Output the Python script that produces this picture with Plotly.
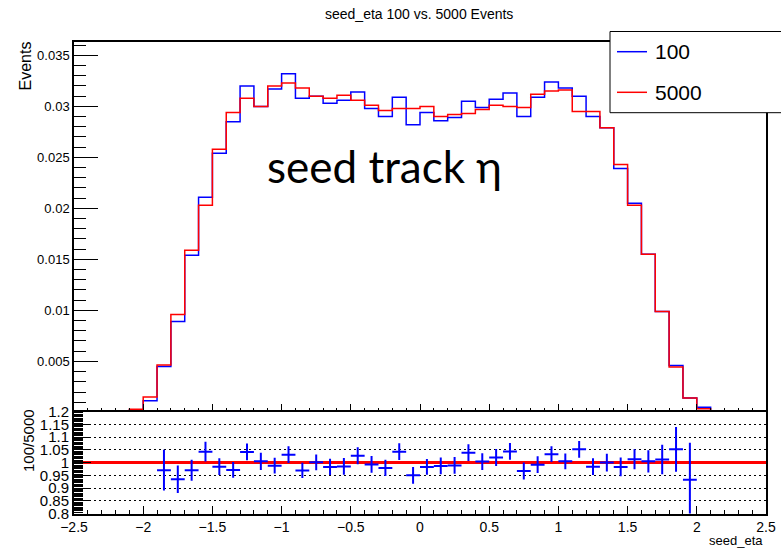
import numpy as np
import plotly.graph_objects as go

# bin edges: 50 bins of 0.1 from -2.5 to 2.5, only -2.1..2.1 are filled
edges = np.round(np.arange(-2.5, 2.5001, 0.1), 2)

# normalised counts per bin, -2.1 .. 2.1 (42 bins)
n100 = [0.0002, 0.00115, 0.0045, 0.0089, 0.0154, 0.0211, 0.0254, 0.0285, 0.0320, 0.0300,
        0.0317, 0.0332, 0.0308, 0.0310, 0.0303, 0.0306, 0.0314, 0.0298, 0.0290, 0.0309,
        0.0282, 0.0294, 0.0286, 0.0289, 0.0305, 0.0299, 0.0307, 0.0313, 0.0290, 0.0309,
        0.0324, 0.0318, 0.0310, 0.0290, 0.0279, 0.0239, 0.0205, 0.0155, 0.0099, 0.0046,
        0.0014, 0.0005]
n5000 = [0.0003, 0.0015, 0.00464, 0.0096, 0.0159, 0.0203, 0.0258, 0.0294, 0.0308, 0.0300,
         0.0320, 0.0323, 0.0318, 0.0310, 0.0308, 0.0311, 0.0306, 0.0301, 0.0296, 0.0298,
         0.0298, 0.0300, 0.0290, 0.0292, 0.0293, 0.0297, 0.0301, 0.0300, 0.0299, 0.0312,
         0.0315, 0.0316, 0.0295, 0.0295, 0.0279, 0.0243, 0.0203, 0.0155, 0.0099, 0.00445,
         0.0014, 0.00036]

# ratio 100/5000 at bin centres -1.85 .. 1.95
ratio = [0.970, 0.935, 0.970, 1.043, 0.984, 0.971, 1.042, 1.005, 0.988, 1.031,
         0.969, 1.001, 0.983, 0.985, 1.027, 0.993, 0.979, 1.043, 0.950, 0.983,
         0.987, 0.989, 1.039, 1.004, 1.020, 1.044, 0.967, 0.992, 1.033, 1.005,
         1.052, 0.984, 1.000, 0.983, 1.013, 1.005, 1.012, 1.052, 0.933]
ratio_err = [0.080, 0.054, 0.041, 0.039, 0.033, 0.031, 0.033, 0.034, 0.031, 0.033,
             0.030, 0.031, 0.032, 0.033, 0.033, 0.033, 0.032, 0.033, 0.033, 0.031,
             0.033, 0.033, 0.033, 0.033, 0.033, 0.033, 0.033, 0.033, 0.031, 0.031,
             0.033, 0.033, 0.035, 0.037, 0.039, 0.044, 0.058, 0.088, 0.145]

first = 4  # index of bin -2.1
def full(vals):
    h = np.zeros(50)
    h[first:first + len(vals)] = vals
    return list(h) + [h[-1]]

centres = [round(-1.85 + 0.1 * i, 2) for i in range(len(ratio))]

W, H = 781, 550
px = lambda x: x / W
py = lambda y: 1 - y / H
FONT = "Liberation Sans, Arial, Helvetica"

fig = go.Figure()
fig.add_trace(go.Scatter(x=edges, y=full(n100), mode="lines", line=dict(color="#0000ff", width=1.5, shape="hv"),
                         xaxis="x", yaxis="y", showlegend=False))
fig.add_trace(go.Scatter(x=edges, y=full(n5000), mode="lines", line=dict(color="#ff0000", width=1.5, shape="hv"),
                         xaxis="x", yaxis="y", showlegend=False))

fig.add_trace(go.Scatter(x=[-2.5, 2.5], y=[1, 1], mode="lines", line=dict(color="#ff0000", width=3),
                         xaxis="x2", yaxis="y2", showlegend=False))
fig.add_trace(go.Scatter(x=centres, y=ratio, mode="markers", marker=dict(size=1, color="#0000ff"),
                         error_y=dict(type="data", array=ratio_err, color="#0000ff", thickness=2, width=0),
                         error_x=dict(type="constant", value=0.05, color="#0000ff", thickness=2, width=0),
                         xaxis="x2", yaxis="y2", showlegend=False))

xdom = [px(74), px(766)]
axis_common = dict(showline=True, linecolor="black", mirror=True, showgrid=False, zeroline=False,
                   automargin=False, ticks="inside", tickcolor="black",
                   tickfont=dict(family=FONT, size=13, color="black"))

fig.update_layout(
    width=W, height=H, margin=dict(l=0, r=0, t=0, b=0, autoexpand=False),
    paper_bgcolor="white", plot_bgcolor="white",
    xaxis=dict(axis_common, domain=xdom, anchor="y", range=[-2.5, 2.5], dtick=0.5, ticklen=9,
               showticklabels=False, linewidth=1.5,
               minor=dict(ticks="inside", dtick=0.1, ticklen=5, tickcolor="black")),
    yaxis=dict(axis_common, domain=[py(412.4), py(41.5)], anchor="x", range=[0, 0.03636],
               tickvals=[0.005, 0.01, 0.015, 0.02, 0.025, 0.03, 0.035],
               ticktext=["0.005", "0.01", "0.015", "0.02", "0.025", "0.03", "0.035"],
               ticklen=24, linewidth=1.5,
               minor=dict(ticks="inside", tickvals=list(np.round(np.arange(0.001, 0.0365, 0.001), 3)),
                          ticklen=12, tickcolor="black")),
    xaxis2=dict(axis_common, domain=xdom, anchor="y2", range=[-2.5, 2.5], dtick=0.5, ticklen=8,
                linewidth=2, tickfont=dict(family=FONT, size=14, color="black"),
                minor=dict(ticks="inside", dtick=0.1, ticklen=4, tickcolor="black")),
    yaxis2=dict(axis_common, domain=[py(513.5), py(411.7)], anchor="x2", range=[0.8, 1.2],
                tickvals=list(np.round(np.arange(0.8, 1.2001, 0.05), 2)),
                ticktext=["0.8", "0.85", "0.9", "0.95", "1", "1.05", "1.1", "1.15", "1.2"],
                ticklen=17, linewidth=2, tickfont=dict(family=FONT, size=15, color="black"),
                showgrid=True, gridcolor="black", griddash="2px,3px", gridwidth=1,
                minor=dict(ticks="inside", dtick=0.005, ticklen=9, tickcolor="black", showgrid=False)),
)

# legend box drawn as in the ROOT canvas
fig.add_shape(type="rect", xref="paper", yref="paper", x0=px(610), x1=px(790), y0=py(112.7), y1=py(31.5),
              line=dict(color="black", width=1), fillcolor="white", layer="above")
fig.add_shape(type="line", xref="paper", yref="paper", x0=px(617), x1=px(647), y0=py(51.7), y1=py(51.7),
              line=dict(color="#0000ff", width=1.5), layer="above")
fig.add_shape(type="line", xref="paper", yref="paper", x0=px(617), x1=px(647), y0=py(92.3), y1=py(92.3),
              line=dict(color="#ff0000", width=1.5), layer="above")

notes = [
    dict(text="100", x=px(653), y=py(52), xanchor="left", yanchor="middle", font=dict(size=21)),
    dict(text="5000", x=px(653), y=py(93), xanchor="left", yanchor="middle", font=dict(size=21)),
    dict(text="seed_eta 100 vs. 5000 Events", x=px(419), y=py(14), xanchor="center", yanchor="middle",
         font=dict(size=14)),
    dict(text="Events", x=px(25), y=py(40), xanchor="center", yanchor="top", textangle=-90, font=dict(size=16)),
    dict(text="100/5000", x=px(29), y=py(441), xanchor="center", yanchor="middle", textangle=-90,
         font=dict(size=15)),
    dict(text="seed_eta", x=px(765), y=py(540), xanchor="right", yanchor="middle", font=dict(size=13)),
    dict(text="seed track \u03b7", x=px(265), y=py(166), xanchor="left", yanchor="middle",
         font=dict(size=44, family="Lato, Open Sans, sans-serif")),
]
for n in notes:
    f = dict(family=FONT, color="black")
    f.update(n.pop("font"))
    fig.add_annotation(xref="paper", yref="paper", showarrow=False, font=f, **n)

# the page's default body margin would shift the canvas by 8px
fig.write_html("out.html", config={"displayModeBar": False},
               post_script="document.body.style.margin='0';")
